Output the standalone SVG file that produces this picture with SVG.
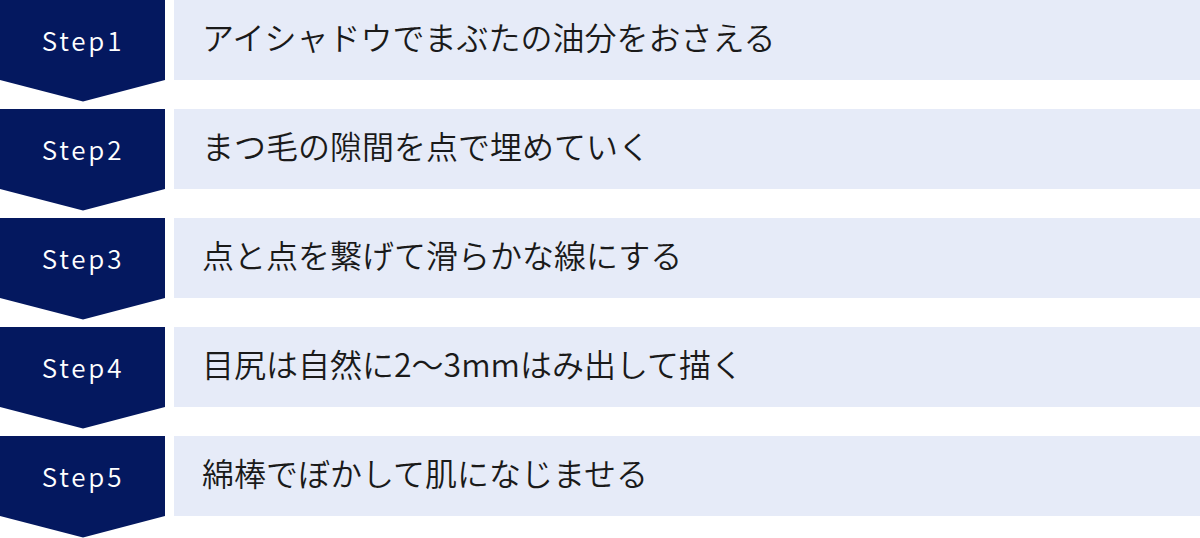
<svg xmlns="http://www.w3.org/2000/svg" width="1200" height="538" viewBox="0 0 1200 538">
<style>
.badge{fill:#04185F}
.card{fill:#E6EBF8}
.step{font-family:"Noto Sans CJK JP","Noto Sans",sans-serif;font-size:26px;font-weight:350;fill:#FFFFFF;letter-spacing:2.8px;text-anchor:middle}
.lbl{font-family:"Noto Sans CJK JP","Noto Sans",sans-serif;font-size:32px;font-weight:350;fill:#1A1A1A}
</style>
<defs>
<path id="chev" d="M0,0 H165 V80 L83,101.5 L0,80 Z"/>
</defs>
<g id="connectors"></g>
<g id="step1" transform="translate(0,0)">
<use href="#chev" class="badge"/>
<rect class="card" x="174" y="0" width="1026" height="80"/>
<text class="step" x="83" y="50.5">Step1</text>
<text class="lbl" x="202" y="49.5">アイシャドウでまぶたの油分をおさえる</text>
</g>
<g id="step2" transform="translate(0,109)">
<use href="#chev" class="badge"/>
<rect class="card" x="174" y="0" width="1026" height="80"/>
<text class="step" x="83" y="50.5">Step2</text>
<text class="lbl" x="202" y="49.5">まつ毛の隙間を点で埋めていく</text>
</g>
<g id="step3" transform="translate(0,218)">
<use href="#chev" class="badge"/>
<rect class="card" x="174" y="0" width="1026" height="80"/>
<text class="step" x="83" y="50.5">Step3</text>
<text class="lbl" x="202" y="49.5">点と点を繋げて滑らかな線にする</text>
</g>
<g id="step4" transform="translate(0,327)">
<use href="#chev" class="badge"/>
<rect class="card" x="174" y="0" width="1026" height="80"/>
<text class="step" x="83" y="50.5">Step4</text>
<text class="lbl" x="202" y="49.5">目尻は自然に2〜3mmはみ出して描く</text>
</g>
<g id="step5" transform="translate(0,436)">
<use href="#chev" class="badge"/>
<rect class="card" x="174" y="0" width="1026" height="80"/>
<text class="step" x="83" y="50.5">Step5</text>
<text class="lbl" x="202" y="49.5">綿棒でぼかして肌になじませる</text>
</g>
</svg>
